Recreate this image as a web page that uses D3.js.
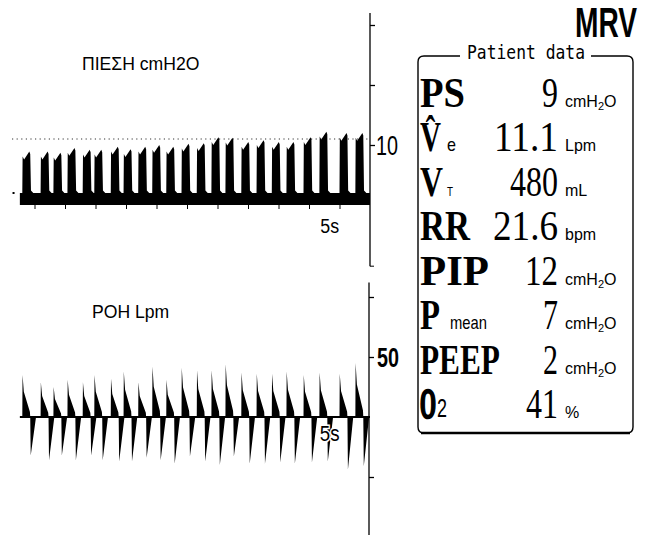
<!DOCTYPE html>
<html>
<head>
<meta charset="utf-8">
<script src="https://cdn.jsdelivr.net/npm/d3@7"></script>
<style>
  body { margin: 0; background: #fff; }
  svg { display: block; }
</style>
</head>
<body>
<svg id="chart" width="645" height="535"></svg>
<script>
const breathStart = [3.0, 6.0, 8.1, 10.4, 12.9, 14.8, 17.5, 19.6, 22.0, 24.3, 26.6, 29.1,
  31.6, 34.0, 36.3, 38.9, 41.4, 43.9, 46.3, 49.1, 51.7, 55.0, 57.6];
// peak airway pressure per breath (cmH2O)
const peakPressure = [8.9, 8.9, 8.7, 9.5, 9.2, 9.2, 9.7, 9.3, 9.7, 10.0, 9.7, 10.2,
  10.3, 11.3, 11.2, 10.5, 10.8, 10.5, 10.5, 11.3, 12.2, 12.0, 12.0];
// inspiratory / expiratory peak flow per breath (Lpm)
const inspFlow = [35, 29, 25, 31, 29, 35, 32, 38, 29, 42, 31, 41, 39, 39, 44, 37, 36, 36,
  38, 35, 37, 36, 45];
const expFlow = [-32, -36, -32, -36, -32, -36, -37, -37, -34, -36, -39, -33, -37, -40,
  -33, -39, -39, -38, -39, -38, -37, -44, -41];

const peep = 2;
const refPressure = 11;
const inspTime = 1.3;
const expTime = 0.95;
const traceStart = 2.6;
const traceEnd = 60;

const pressureTicks = [30, 20, 10];
const flowTicks = [100, 50, -50];
const timeTicks = [5, 10, 15, 20, 25, 30, 35, 40, 45, 50, 55];

const rowLabels = ["PS", "V\u0302", "V", "RR", "PIP", "P", "PEEP", "O"];
const rowSubs = ["", "e", "T", "", "", "mean", "", "2"];
const rowValues = ["9", "11.1", "480", "21.6", "12", "7", "2", "41"];
const rowUnits = ["cmH2O", "Lpm", "mL", "bpm", "cmH2O", "cmH2O", "cmH2O", "%"];

// layout: printed widths of the panel glyph runs
const labelWidth = { "PS": 45, "V\u0302": 21, "V": 23, "RR": 50, "PIP": 69, "P": 20, "PEEP": 80, "O": 16 };
const valueWidth = { "9": 16, "11.1": 64, "480": 48, "21.6": 65, "12": 33, "7": 15, "2": 15, "41": 32 };

const svg = d3.select("#chart");
const x = d3.scaleLinear().domain([0, 60]).range([4, 370]);
const yP = d3.scaleLinear().domain([-10, 30]).range([265, 25]);
const yF = d3.scaleLinear().domain([-100, 100]).range([537, 297]);
const rowY = d3.scaleLinear().domain([0, 7]).range([107, 418]);

function txt(parent, px, py, str, o) {
  const g = parent.append("g").attr("transform", `translate(${px},${py})`);
  const t = g.append("text")
    .attr("font-family", o.font || "Liberation Sans, Arial, sans-serif")
    .attr("font-size", o.size)
    .attr("font-weight", o.weight || "normal")
    .attr("text-anchor", o.anchor || "start")
    .attr("fill", "#000")
    .text(str);
  let sx = o.sx || 1;
  if (o.width) sx = o.width / t.node().getComputedTextLength();
  g.attr("transform", `translate(${px},${py}) scale(${sx},${o.sy || 1})`);
  return t;
}

// ---------- pressure strip ----------
function pressurePoints() {
  const pts = [[traceStart, peep]];
  breathStart.forEach((t0, i) => {
    const p = peakPressure[i];
    pts.push([t0, peep], [t0 + 0.05, p - 0.8], [t0 + 0.3, p - 1.3],
      [t0 + inspTime - 0.15, p], [t0 + inspTime, p - 0.4], [t0 + inspTime + 0.12, peep + 0.4],
      [t0 + inspTime + 0.5, peep]);
  });
  pts.push([traceEnd, peep]);
  return pts;
}

const area = (ys) => d3.area().x((d) => x(d[0])).y0(ys(0)).y1((d) => ys(d[1]));

svg.append("line")
  .attr("x1", 12).attr("x2", x(59.8))
  .attr("y1", yP(refPressure)).attr("y2", yP(refPressure))
  .attr("stroke", "#333").attr("stroke-width", 1)
  .attr("stroke-dasharray", "1.2,3.4");

svg.append("path")
  .datum(pressurePoints())
  .attr("d", area(yP))
  .attr("fill", "#000");

svg.append("rect")
  .attr("x", x(1.4)).attr("y", yP(peep) - 1).attr("width", 2).attr("height", 2)
  .attr("fill", "#000");

svg.append("g")
  .attr("transform", `translate(0,${yP(0)})`)
  .call(d3.axisBottom(x).tickValues(timeTicks).tickSize(4).tickFormat(""))
  .call((g) => g.select(".domain").remove())
  .call((g) => g.selectAll("line").attr("stroke", "#000"));

const pAxis = svg.append("g").attr("transform", `translate(${x(60)},0)`);
pAxis.call(d3.axisRight(yP).tickValues(pressureTicks).tickSize(5).tickFormat(""))
  .call((g) => g.select(".domain").remove())
  .call((g) => g.selectAll("line").attr("stroke", "#000").attr("stroke-width", 1.3));
pAxis.append("line").attr("y1", yP(32)).attr("y2", yP(-10.2)).attr("stroke", "#000").attr("stroke-width", 1.3);
pAxis.append("line").attr("x1", 0).attr("x2", 4).attr("y1", yP(-10.2)).attr("y2", yP(-10.2)).attr("stroke", "#000");
txt(pAxis, 6, yP(10) + 10, "10", { size: 27, width: 22 });

txt(svg, x(53.4), 233, "5s", { size: 21, sx: 0.85, anchor: "middle" });
txt(svg, 82, 70, "ΠΙΕΣΗ cmH2O", { size: 17.6 });

// ---------- flow strip ----------
function flowPoints() {
  const pts = [[traceStart, 0]];
  breathStart.forEach((t0, i) => {
    const f = inspFlow[i], e = expFlow[i], te = t0 + inspTime;
    pts.push([t0, 0], [t0 + 0.04, f], [t0 + 0.25, f * 0.6], [te - 0.05, f * 0.12], [te, 0],
      [te + 0.08, e], [te + expTime, 0]);
  });
  pts.push([traceEnd, 0]);
  return pts;
}

svg.append("path")
  .datum(flowPoints())
  .attr("d", area(yF))
  .attr("fill", "#000");

svg.append("line")
  .attr("x1", x(traceStart)).attr("x2", x(60))
  .attr("y1", yF(0)).attr("y2", yF(0))
  .attr("stroke", "#000").attr("stroke-width", 2);

const fAxis = svg.append("g").attr("transform", `translate(${x(60) - 1},0)`);
fAxis.call(d3.axisRight(yF).tickValues(flowTicks).tickSize(5).tickFormat(""))
  .call((g) => g.select(".domain").remove())
  .call((g) => g.selectAll("line").attr("stroke", "#000").attr("stroke-width", 1.3));
fAxis.append("line").attr("y1", yF(112)).attr("y2", 535).attr("stroke", "#000").attr("stroke-width", 1.3);
txt(fAxis, 8, yF(50) + 10, "50", { size: 27, width: 22, weight: "bold" });

txt(svg, x(53.4), 441, "5s", { size: 22, sx: 0.85, anchor: "middle" })
  .attr("stroke", "#fff").attr("stroke-width", 3).attr("paint-order", "stroke");
txt(svg, 92, 318, "ΡΟΗ Lpm", { size: 17.6 });

// ---------- patient data panel ----------
txt(svg, 637, 37, "MRV", { size: 42, weight: "bold", anchor: "end", width: 62 });

const box = d3.path();
box.moveTo(460, 56);
box.lineTo(424, 56);
box.quadraticCurveTo(418, 56, 418, 62);
box.lineTo(418, 427);
box.quadraticCurveTo(418, 433, 424, 433);
box.lineTo(627, 433);
box.quadraticCurveTo(633, 433, 633, 427);
box.lineTo(633, 62);
box.quadraticCurveTo(633, 56, 627, 56);
box.lineTo(591, 56);
svg.append("path").attr("d", box.toString()).attr("fill", "none")
  .attr("stroke", "#000").attr("stroke-width", 1.4);
svg.append("line").attr("x1", 421).attr("x2", 630).attr("y1", 433).attr("y2", 433)
  .attr("stroke", "#000").attr("stroke-width", 2.6);

txt(svg, 526, 59, "Patient data", { size: 20, font: "DejaVu Sans Mono, monospace", anchor: "middle", width: 118 })
  .attr("font-weight", 300);

const serif = "Liberation Serif, Times New Roman, serif";
const subX = { "e": 447, "T": 447, "mean": 450, "2": 437 };
rowLabels.forEach((lab, i) => {
  const by = rowY(i);
  const t = txt(svg, 420, by, lab, { size: 40, sy: 1.08, weight: "bold", font: serif, width: labelWidth[lab] });
  if (lab === "O") t.attr("stroke", "#000").attr("stroke-width", 2.4);
  const s = rowSubs[i];
  if (s === "2") txt(svg, subX[s], by - 1, s, { size: 25, width: 10 });
  else if (s === "T") txt(svg, subX[s], by, s, { size: 13, width: 6 });
  else if (s) txt(svg, subX[s], by, s, { size: 18, width: s === "mean" ? 37 : 9 });
  txt(svg, 558, by, rowValues[i], { size: 40, sy: 1.08, font: serif, anchor: "end", width: valueWidth[rowValues[i]] });
  const u = txt(svg, 565, by, "", { size: 16 });
  if (rowUnits[i] === "cmH2O") {
    u.append("tspan").text("cmH");
    u.append("tspan").attr("font-size", 11).attr("dy", 3).text("2");
    u.append("tspan").attr("dy", -3).text("O");
  } else {
    u.text(rowUnits[i]);
  }
});
</script>
</body>
</html>
